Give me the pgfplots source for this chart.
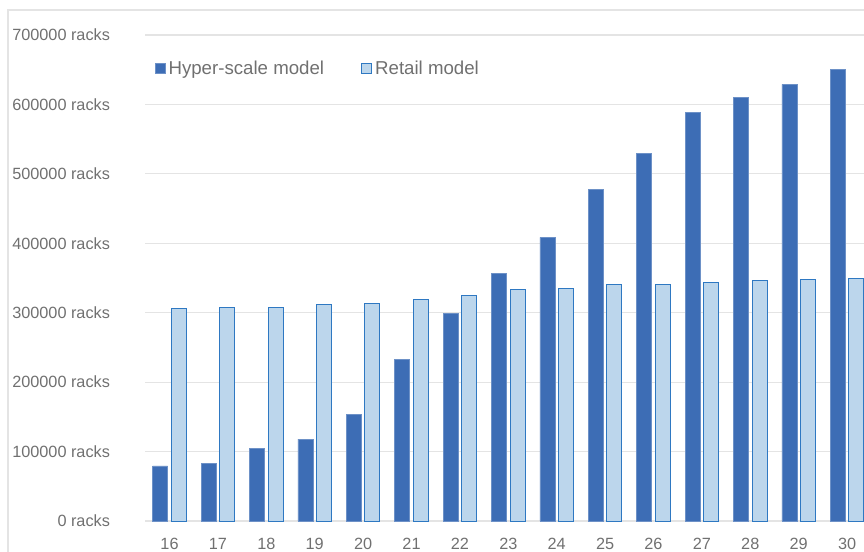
\documentclass[border=0pt]{standalone}
\usepackage{fontspec}
\setmainfont{Liberation Sans}
\usepackage{pgfplots}
\pgfplotsset{compat=1.18}
\definecolor{hyper}{HTML}{3D6DB5}
\definecolor{retailfill}{HTML}{BCD6EC}
\definecolor{retaildraw}{HTML}{2E78C2}
\definecolor{gridc}{HTML}{E4E4E4}
\definecolor{txt}{HTML}{707070}
\begin{document}
\begin{tikzpicture}
\useasboundingbox (0,0) rectangle (648pt,413.25pt);
\begin{scope}
\clip (0,0) rectangle (648pt,413.25pt);
\draw[gridc, line width=0.8pt] (6pt,-20pt) -- (6pt,405.75pt) -- (700pt,405.75pt);
\begin{axis}[
  at={(109pt,22.5pt)}, anchor=south west,
  scale only axis, width=539pt, height=364.5pt,
  xmin=15.5, xmax=30.35, ymin=0, ymax=700000,
  ybar, bar width=11.25pt,
  axis x line*=bottom, axis y line*=left,
  y axis line style={draw=none},
  x axis line style={draw=gridc, line width=0.8pt},
  major tick length=0pt,
  ymajorgrids, grid style={draw=gridc, line width=0.8pt},
  xtick={16,...,30},
  ytick={0,100000,...,700000},
  yticklabels={0 racks,100000 racks,200000 racks,300000 racks,400000 racks,500000 racks,600000 racks,700000 racks},
  scaled y ticks=false,
  /pgf/number format/assume math mode=true,
  tick label style={font=\fontsize{12.2}{14}\selectfont, text=txt},
  yticklabel style={anchor=east, xshift=-23pt},
  xticklabel style={anchor=base, yshift=-21pt},
  clip=true,
  legend style={at={(0.008,0.93)}, anchor=west, draw=none, fill=none,
    legend columns=2, font=\fontsize{14}{16}\selectfont, text=txt,
    /tikz/every even column/.append style={column sep=26pt}},
  legend image code/.code={\draw[#1,/tikz/.cd,bar shift=0pt] (0pt,-3.5pt) rectangle (7.5pt,4pt);},
]
\addplot[fill=hyper, draw=hyper!75!white, line width=0.4pt, bar shift=-7pt] coordinates {
(16,79500) (17,82500) (18,104700) (19,118000) (20,153700) (21,233000) (22,299000)
(23,357000) (24,408600) (25,478000) (26,530000) (27,588000) (28,610000) (29,629000) (30,651000)};
\addlegendentry{Hyper-scale model}
\addplot[fill=retailfill, draw=retaildraw, line width=0.75pt, bar shift=7pt] coordinates {
(16,305800) (17,307000) (18,307000) (19,311500) (20,313000) (21,318800) (22,325000)
(23,333700) (24,335000) (25,341000) (26,341000) (27,343800) (28,346700) (29,348000) (30,349600)};
\addlegendentry{Retail model}
\end{axis}
\end{scope}
\end{tikzpicture}
\end{document}
